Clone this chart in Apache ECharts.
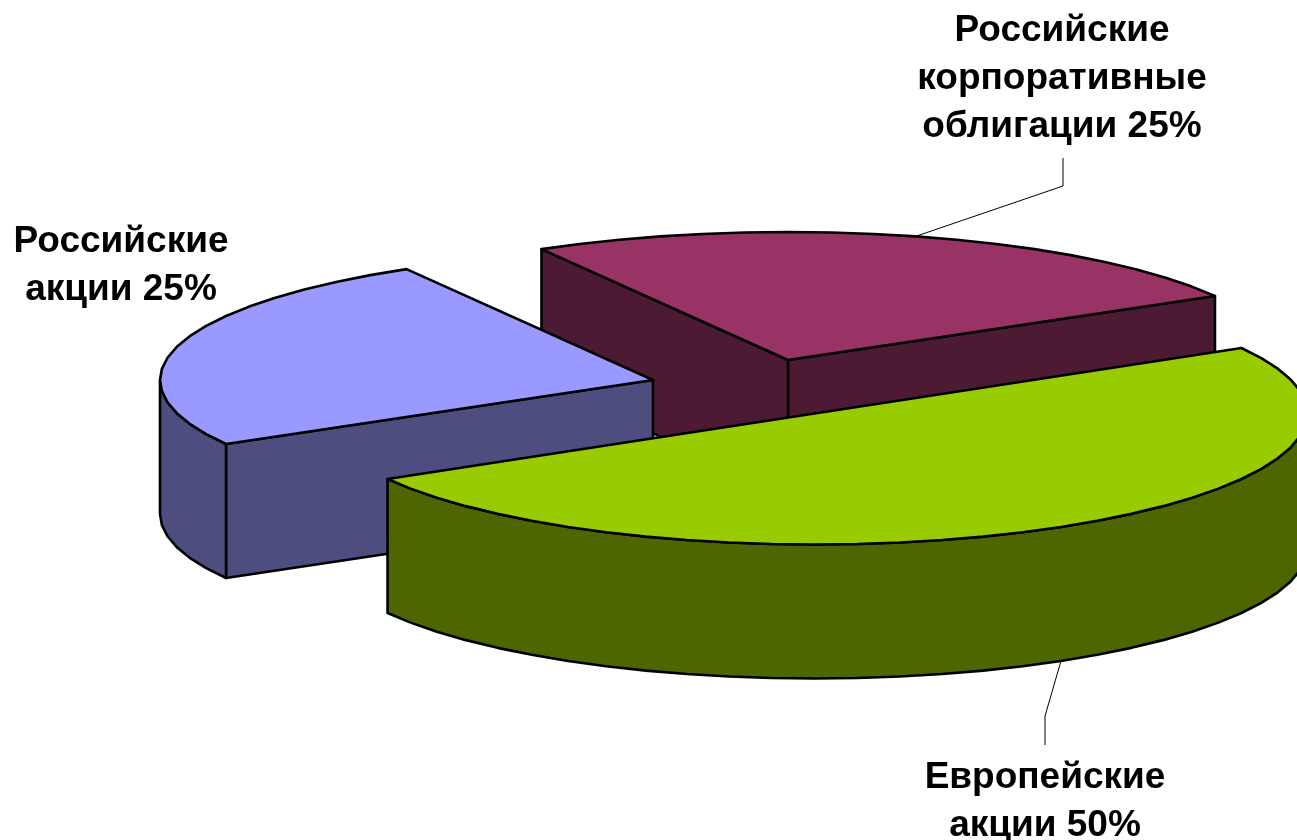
<!DOCTYPE html>
<html>
<head>
<meta charset="utf-8">
<style>
html,body{margin:0;padding:0;background:#fff;}
#main{width:1297px;height:840px;}
</style>
<script src="https://cdn.jsdelivr.net/npm/echarts@6/dist/echarts.min.js"></script>
</head>
<body>
<div id="main"></div>
<script>
// данные
var names=['Российские\nкорпоративные\nоблигации','Российские\nакции','Европейские\nакции'];
var values=[25,25,50];

// оформление
var topColors=['#993366','#9999FF','#99CC00'];
var sideColors=['#4D1A33','#4D4D80','#4D6600'];
var centers=[[788,360],[653,380],[814.5,413.5]]; //вершины секторов после выноса
var radiusY=[128,128,131]; //нижний сектор в оригинале чуть выпуклее
var labelPos=[[1062,31],[121,242],[1045,778]];
var leaderElbow=[[1063,186],null,[1045,716]];
var leaderEnd=[[1063,158],null,[1045,745]];
var rx=493, depth=134;
var startAngle=30;
var fontSize=37;

var total=values.reduce(function(a,b){return a+b;},0);
var angles=[];
var cur=startAngle;
values.forEach(function(v){
    angles.push([cur,cur+v/total*360]);
    cur+=v/total*360;
});

function pt(i,deg,dy){
    var r=deg*Math.PI/180;
    return [centers[i][0]+rx*Math.cos(r),centers[i][1]-radiusY[i]*Math.sin(r)+(dy||0)];
}
// дуга ломаной, как в исходной картинке
function arc(i,a0,a1,dy){
    var pts=[];
    var n=Math.max(2,Math.round(Math.abs(a1-a0)/5));
    for(var k=0;k<=n;k++){
        pts.push(pt(i,a0+(a1-a0)*k/n,dy));
    }
    return pts;
}
function poly(points,fill){
    return {type:'polygon',shape:{points:points},
        style:{fill:fill,stroke:'#000',lineWidth:2.6,lineJoin:'round'}};
}
// боковая грань по радиусу
function wall(i,deg){
    var c=centers[i];
    var p=pt(i,deg);
    return poly([c,p,[p[0],p[1]+depth],[c[0],c[1]+depth]],sideColors[i]);
}

function renderItem(params,api){
    var i=api.value(0);
    var a0=angles[i][0], a1=angles[i][1];
    var mid=(a0+a1)/2;
    var children=[];
    // разрез виден, когда его наружная сторона смотрит на зрителя
    if(Math.cos(a0*Math.PI/180)>0) children.push(wall(i,a0));
    if(Math.cos(a1*Math.PI/180)<0) children.push(wall(i,a1));
    // внешняя дуга: только передняя половина
    var from=Math.max(a0,180), to=Math.min(a1,360);
    if(to>from){
        children.push(poly(arc(i,from,to,0).concat(arc(i,to,from,depth)),sideColors[i]));
    }
    children.push(poly([centers[i]].concat(arc(i,a0,a1,0)),topColors[i]));
    // выноска и подпись
    if(leaderElbow[i]){
        var anchor=pt(i,mid,Math.sin(mid*Math.PI/180)<0?depth:0);
        children.unshift({type:'polyline',shape:{points:[leaderEnd[i],leaderElbow[i],anchor]},
            style:{fill:null,stroke:'#000',lineWidth:1}});
    }
    var pct=Math.round(values[i]/total*100);
    children.push({type:'text',x:labelPos[i][0],y:labelPos[i][1]-24,
        style:{text:names[i]+' '+pct+'%',fill:'#000',align:'center',verticalAlign:'top',
            font:'bold '+fontSize+'px "Liberation Sans"',lineHeight:48}});
    return {type:'group',children:children};
}

var myChart=echarts.init(document.getElementById('main'));
myChart.setOption({
    backgroundColor:'#fff',
    animation:false,
    series:[{
        type:'custom',
        coordinateSystem:'none',
        silent:true,
        renderItem:renderItem,
        data:values.map(function(v,i){return [i,v];})
    }]
});
</script>
</body>
</html>
